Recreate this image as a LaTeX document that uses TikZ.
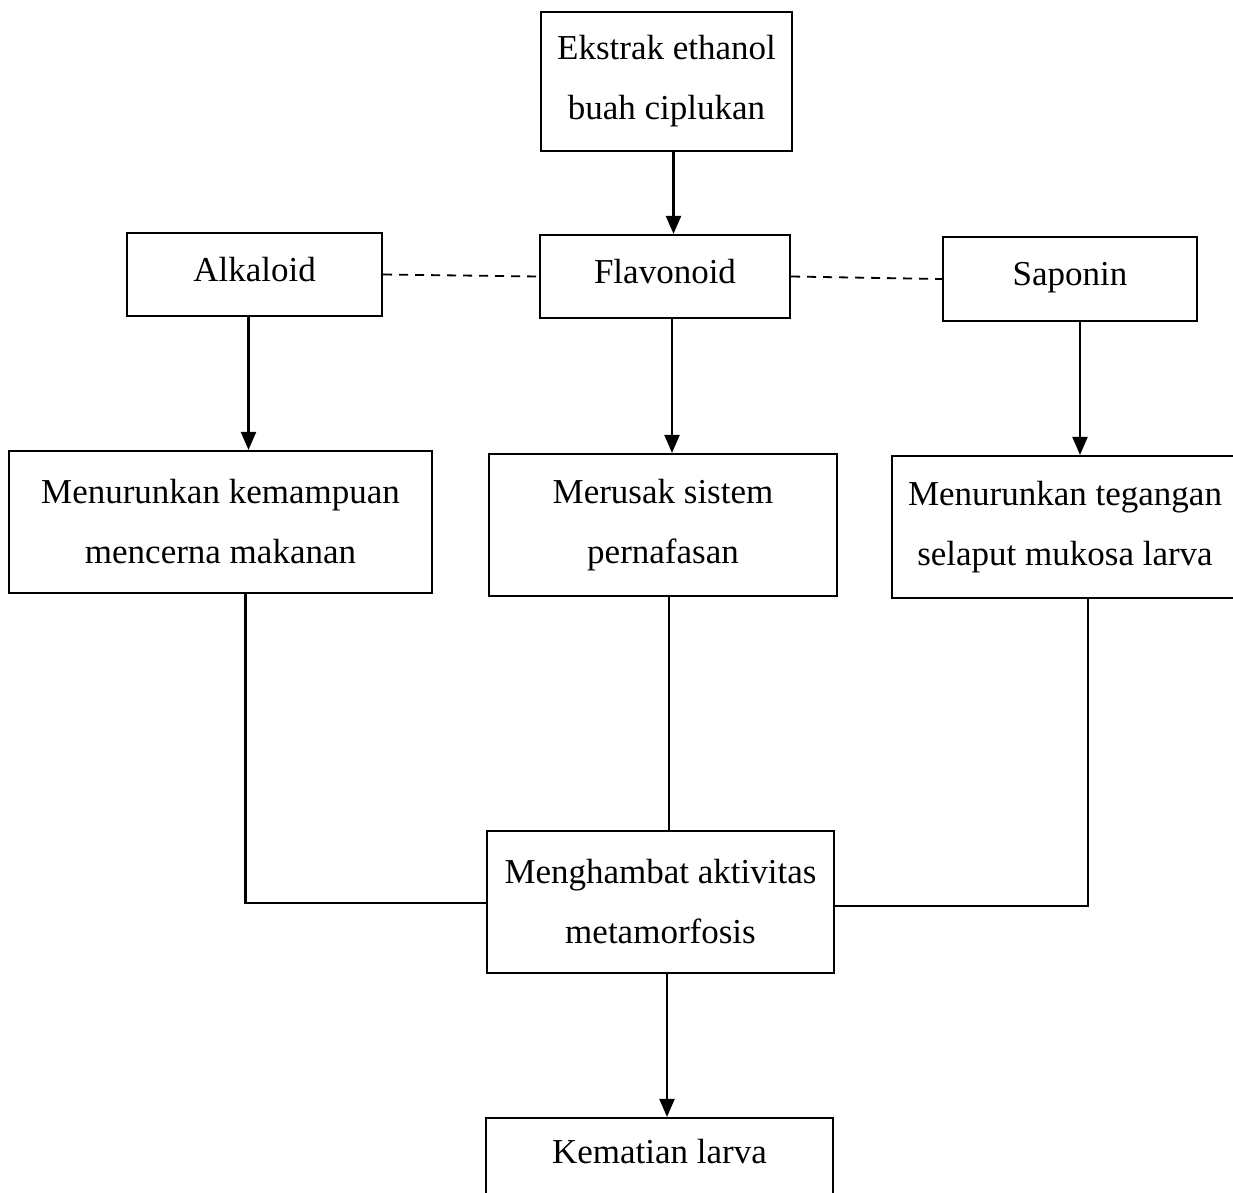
\documentclass[tikz,border=0pt]{standalone}
\usepackage{fontspec}
\setmainfont{Liberation Serif}
\usepackage{tikz}
\usetikzlibrary{arrows.meta}
\tikzset{
  block/.style={draw, line width=2.2pt, align=center, inner sep=0pt, fill=white, font=\fontsize{35}{60}\selectfont},
  single/.style={block, text height=25pt, text depth=12pt},
  flow/.style={-{Triangle[length=18pt,width=15pt]}, line width=2.2pt},
  merge/.style={line width=2.2pt},
  link/.style={dash pattern=on 9pt off 7pt, line width=1.8pt}
}

\begin{document}
\begin{tikzpicture}[x=1pt,y=-1pt]
  \useasboundingbox (0,0) rectangle (1233,1192);

  \node[block, minimum width=251pt, minimum height=139pt] (ekstrak) at (666.5,81.5) {Ekstrak ethanol\\buah ciplukan};

  \node[single, minimum width=255pt, minimum height=83pt] (alkaloid) at (254.5,274.5) {Alkaloid};
  \node[single, minimum width=250pt, minimum height=83pt] (flavonoid) at (665,276.5) {Flavonoid};
  \node[single, minimum width=254pt, minimum height=84pt] (saponin) at (1070,279) {Saponin};

  \node[block, minimum width=423pt, minimum height=142pt] (cerna) at (220.5,522) {Menurunkan kemampuan\\mencerna makanan};
  \node[block, minimum width=348pt, minimum height=142pt] (napas) at (663,525) {Merusak sistem\\pernafasan};
  \node[block, minimum width=346pt, minimum height=142pt] (mukosa) at (1065,527) {Menurunkan tegangan\\selaput mukosa larva};

  \node[block, minimum width=347pt, minimum height=142pt] (metamorfosis) at (660.5,902) {Menghambat aktivitas\\metamorfosis};
  \node[block, minimum width=347pt, minimum height=142pt, text height=25pt, text depth=76pt] (kematian) at (659.5,1189) {Kematian larva};

  % senyawa aktif
  \draw[flow] ([xshift=7pt]ekstrak.south) -- ([xshift=7pt]ekstrak.south |- flavonoid.north);
  \draw[link] (alkaloid.east) -- (flavonoid.west);
  \draw[link] (flavonoid.east) -- (saponin.west);

  % mekanisme
  \draw[flow] ([xshift=-6pt]alkaloid.south) -- ([xshift=-6pt]alkaloid.south |- cerna.north);
  \draw[flow] ([xshift=7pt]flavonoid.south) -- ([xshift=7pt]flavonoid.south |- napas.north);
  \draw[flow] ([xshift=10pt]saponin.south) -- ([xshift=10pt]saponin.south |- mukosa.north);

  % gabungan ke metamorfosis
  \draw[merge] ([xshift=25pt]cerna.south) |- ([yshift=-1pt]metamorfosis.west);
  \draw[merge] ([xshift=6pt]napas.south) -- ([xshift=6pt]napas.south |- metamorfosis.north);
  \draw[merge] ([xshift=23pt]mukosa.south) |- ([yshift=-4pt]metamorfosis.east);

  \draw[flow] ([xshift=6.5pt]metamorfosis.south) -- ([xshift=6.5pt]metamorfosis.south |- kematian.north);
\end{tikzpicture}
\end{document}
